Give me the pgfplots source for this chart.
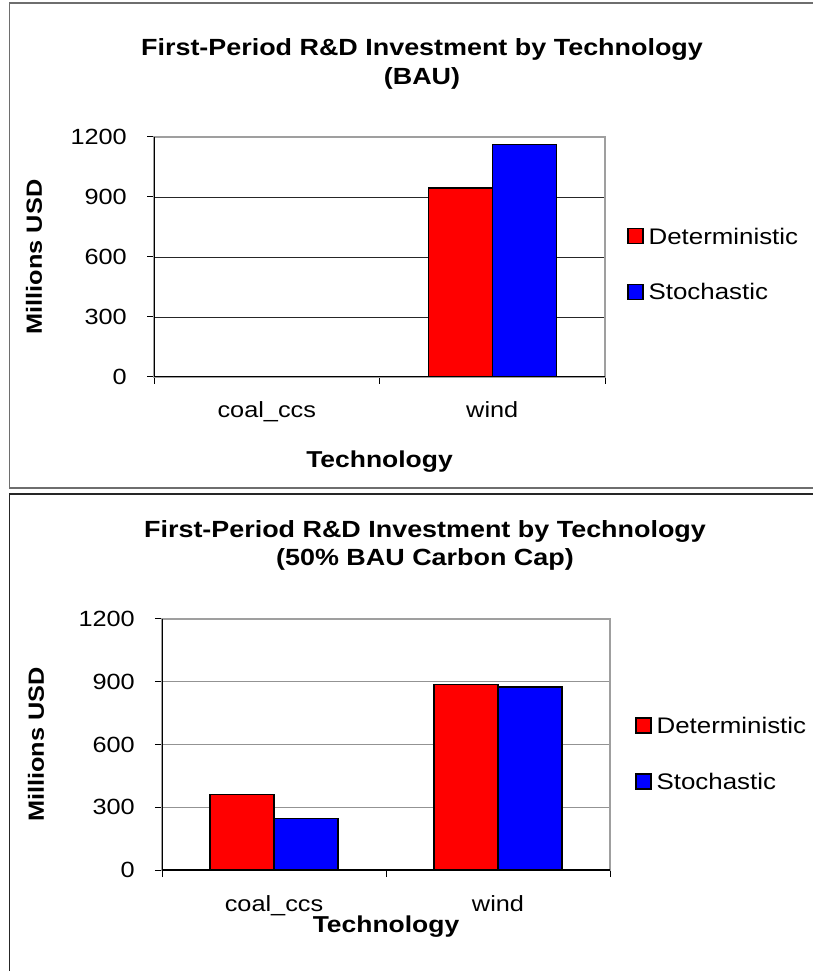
\documentclass[border=0pt]{standalone}
\usepackage{pgfplots}
\pgfplotsset{compat=1.18}
\usepackage{fontspec}
\setmainfont[FakeStretch=1.15]{Liberation Sans}

\definecolor{barred}{RGB}{255,0,0}
\definecolor{barblue}{RGB}{0,0,255}
\definecolor{framegray}{RGB}{110,110,110}

\pgfplotsset{
  rdstyle/.style={
    scale only axis,
    ybar=0pt, bar width=64pt,
    xmin=-0.5, xmax=1.5,
    ymin=0, ymax=1200,
    ytick={0,300,600,900,1200},
    /pgf/number format/1000 sep={},
    /pgf/number format/assume math mode=true,
    xtick={-0.5,0.5,1.5},
    xticklabels={},
    extra x ticks={0,1},
    extra x tick labels={coal\_ccs,wind},
    extra x tick style={major tick length=0pt},
    tick align=outside,
    xtick pos=bottom, ytick pos=left,
    major tick length=7pt,
    tick style={black, line width=1pt},
    ymajorgrids,
    xmajorgrids=false,
    axis line style={draw=gray!75, line width=1.6pt},
    yticklabel style={font=\fontsize{22}{26}\selectfont, inner sep=0pt, anchor=east, xshift=-20pt},
    xticklabel style={font=\fontsize{22}{26}\selectfont, inner sep=0pt, anchor=base},
    ylabel={Millions USD},
    xlabel={Technology},
    ylabel style={font=\bfseries\fontsize{22}{26}\selectfont},
    xlabel style={font=\bfseries\fontsize{23}{27}\selectfont},
    legend image code/.code={\draw[#1, line width=1.4pt] (0pt,-7pt) rectangle (15pt,8pt);},
    legend style={draw=none, fill=none, font=\fontsize{22.5}{27}\selectfont,
      nodes={inner sep=0pt}, column sep=5pt, row sep=38pt, anchor=west},
    legend cell align=left,
  },
  redbar/.style={fill=barred, draw=black, line width=1.4pt},
  bluebar/.style={fill=barblue, draw=black, line width=1.4pt},
}

\begin{document}
\begin{tikzpicture}
\useasboundingbox (0pt,0pt) rectangle (813pt,971pt);
% panel frames
\draw[framegray, line width=1.6pt] (9.5pt,968pt) rectangle (820pt,483pt);
\draw[black!85, line width=1.8pt] (9.5pt,477pt) rectangle (820pt,-10pt);
% titles
\node[anchor=base, font=\bfseries\fontsize{23.4}{29}\selectfont] at (422pt,915pt) {First-Period R\&D Investment by Technology};
\node[anchor=base, font=\bfseries\fontsize{23.4}{29}\selectfont] at (422pt,886pt) {(BAU)};
\node[anchor=base, font=\bfseries\fontsize{23.4}{29}\selectfont] at (425pt,433pt) {First-Period R\&D Investment by Technology};
\node[anchor=base, font=\bfseries\fontsize{23.4}{29}\selectfont] at (425pt,405pt) {(50\% BAU Carbon Cap)};

\begin{axis}[rdstyle,
  at={(154pt,594pt)}, anchor=south west, width=451pt, height=240pt,
  grid style={black!85, line width=0.9pt},
  ylabel style={at={(rel axis cs:0,0.5)}, anchor=center, yshift=120pt},
  xlabel style={at={(rel axis cs:0.5,0)}, anchor=base, yshift=-91pt},
  xticklabel style={yshift=-41pt},
  legend style={at={(rel axis cs:1,0.468)}, xshift=19pt},
]
\addplot[redbar] coordinates {(0,0) (1,945)};
\addplot[bluebar] coordinates {(0,0) (1,1163)};
\legend{Deterministic,Stochastic}
\draw[black, line width=1.4pt] (rel axis cs:0,1) -- (rel axis cs:0,0) -- (rel axis cs:1,0);
\end{axis}

\begin{axis}[rdstyle,
  at={(162pt,101pt)}, anchor=south west, width=448pt, height=251pt,
  grid style={gray!85, line width=1.3pt},
  ylabel style={at={(rel axis cs:0,0.5)}, anchor=center, yshift=126pt},
  xlabel style={at={(rel axis cs:0.5,0)}, anchor=base, yshift=-62pt},
  xticklabel style={yshift=-41pt},
  legend style={at={(rel axis cs:1,0.462)}, xshift=22pt},
]
\addplot[redbar] coordinates {(0,361) (1,888)};
\addplot[bluebar] coordinates {(0,246) (1,874)};
\legend{Deterministic,Stochastic}
\draw[black, line width=1.4pt] (rel axis cs:0,1) -- (rel axis cs:0,0) -- (rel axis cs:1,0);
\end{axis}
\end{tikzpicture}
\end{document}
